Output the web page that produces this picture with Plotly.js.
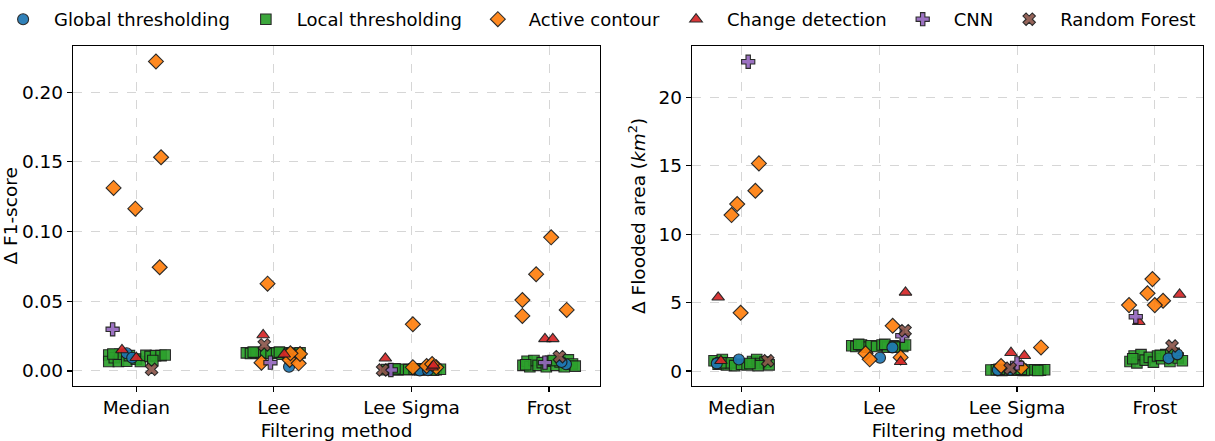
<!DOCTYPE html>
<html>
<head>
<meta charset="utf-8">
<script src="https://cdn.plot.ly/plotly-3.0.1.min.js"></script>
<style>html,body{margin:0;padding:0;background:#fff}#chart{width:1215px;height:441px}</style>
</head>
<body>
<div id="chart"></div>
<script>
// Filtering methods (x categories)
const methods = ["Median", "Lee", "Lee Sigma", "Frost"];
const seriesNames = ["Global thresholding", "Local thresholding", "Active contour", "Change detection", "CNN", "Random Forest"];

// ---- Δ F1-score (left panel): method, jitter, value ----
const f1GlobalMethod = ["Median","Median","Lee","Lee","Lee Sigma","Lee Sigma","Frost","Frost"];
const f1GlobalJitter = [-0.07,-0.03,0.11,0.14,0.06,0.12,0.123,0.09];
const f1GlobalValue  = [0.0127,0.0095,0.003,0.0115,0.0003,0.0005,0.0048,0.0065];

const f1LocalMethod = [
 "Median","Median","Median","Median","Median","Median","Median","Median","Median","Median","Median","Median","Median","Median","Median","Median",
 "Lee","Lee","Lee","Lee","Lee","Lee","Lee","Lee","Lee","Lee","Lee","Lee","Lee","Lee","Lee",
 "Lee Sigma","Lee Sigma","Lee Sigma","Lee Sigma","Lee Sigma","Lee Sigma","Lee Sigma","Lee Sigma","Lee Sigma","Lee Sigma","Lee Sigma","Lee Sigma","Lee Sigma","Lee Sigma",
 "Frost","Frost","Frost","Frost","Frost","Frost","Frost","Frost","Frost","Frost","Frost","Frost","Frost","Frost","Frost","Frost"];
const f1LocalJitter = [
 -0.2,-0.2,-0.16,-0.13,-0.12,-0.07,-0.05,0.0,0.03,0.07,0.1,0.14,0.18,0.21,-0.17,0.12,
 -0.2,-0.17,-0.13,-0.09,-0.06,-0.02,0.02,0.06,0.1,0.13,0.17,0.19,-0.15,0.04,0.11,
 -0.18,-0.14,-0.1,-0.06,-0.02,0.02,0.06,0.1,0.14,0.18,0.21,-0.12,0.04,0.16,
 -0.19,-0.16,-0.14,-0.11,-0.08,-0.05,-0.02,0.01,0.05,0.08,0.11,0.14,0.17,0.19,-0.17,0.03];
const f1LocalValue = [
 0.0115,0.0068,0.0095,0.0068,0.012,0.007,0.011,0.0085,0.0068,0.0112,0.0105,0.011,0.011,0.0115,0.0122,0.0075,
 0.013,0.0125,0.013,0.0125,0.013,0.0125,0.013,0.012,0.013,0.0125,0.0125,0.013,0.0135,0.0135,0.012,
 0.001,0.0012,0.0008,0.0012,0.001,0.0012,0.0008,0.001,0.0012,0.001,0.0012,0.0015,0.0015,0.0006,
 0.004,0.007,0.003,0.0075,0.004,0.006,0.003,0.007,0.004,0.0065,0.003,0.008,0.005,0.0035,0.0045,0.0075];

const f1ActiveMethod = ["Median","Median","Median","Median","Median","Lee","Lee","Lee","Lee","Lee","Lee","Lee Sigma","Lee Sigma","Lee Sigma","Lee Sigma","Lee Sigma","Frost","Frost","Frost","Frost","Frost"];
const f1ActiveJitter = [0.143,0.18,-0.165,-0.007,0.17,-0.046,-0.09,0.115,0.18,0.19,0.12,0.01,0.01,0.11,0.18,0.15,0.015,-0.094,-0.194,-0.194,0.128];
const f1ActiveValue  = [0.222,0.1533,0.1313,0.1164,0.0744,0.0626,0.006,0.0079,0.0055,0.0122,0.0127,0.0335,0.0026,0.0036,0.0026,0.005,0.0959,0.0694,0.0509,0.0395,0.0438];

const f1ChangeMethod = ["Median","Median","Lee","Lee","Lee Sigma","Lee Sigma","Lee Sigma","Frost","Frost"];
const f1ChangeJitter = [-0.104,0.0,-0.078,0.075,-0.19,0.15,0.16,-0.03,0.027];
const f1ChangeValue  = [0.0151,0.0095,0.0258,0.012,0.0091,0.0027,0.004,0.023,0.023];

const f1CnnMethod = ["Median","Lee","Lee Sigma","Frost"];
const f1CnnJitter = [-0.172,-0.025,-0.15,-0.03];
const f1CnnValue  = [0.0299,0.006,0.0007,0.006];

const f1RfMethod = ["Median","Lee","Lee Sigma","Frost"];
const f1RfJitter = [0.111,-0.07,-0.21,0.075];
const f1RfValue  = [0.0012,0.0187,0.0007,0.0103];

// ---- Δ Flooded area km² (right panel) ----
const arGlobalMethod = ["Median","Median","Lee","Lee","Lee Sigma","Lee Sigma","Frost","Frost"];
const arGlobalJitter = [-0.18,-0.02,0.005,0.095,-0.14,-0.05,0.1,0.164];
const arGlobalValue  = [0.56,0.85,0.97,1.73,0.07,0.1,0.93,1.22];

const arLocalMethod = f1LocalMethod;
const arLocalJitter = [
 -0.2,-0.17,-0.14,-0.11,-0.08,-0.05,0.0,0.04,0.08,0.11,0.14,0.17,0.2,-0.15,0.12,0.06,
 -0.2,-0.17,-0.13,-0.09,-0.06,-0.02,0.02,0.06,0.1,0.13,0.17,0.19,-0.15,0.04,0.11,
 -0.19,-0.15,-0.11,-0.07,-0.03,0.01,0.05,0.09,0.13,0.17,0.2,-0.13,0.03,0.15,
 -0.18,-0.15,-0.13,-0.1,-0.07,-0.04,-0.01,0.02,0.05,0.08,0.11,0.14,0.17,0.2,-0.16,0.04];
const arLocalValue = [
 0.75,0.5,0.85,0.45,0.6,0.4,0.5,0.45,0.7,0.85,0.55,0.65,0.45,0.6,0.4,0.55,
 1.85,1.8,1.9,1.75,1.85,1.8,1.9,1.75,1.85,1.8,1.8,1.9,1.95,1.95,1.75,
 0.08,0.1,0.05,0.1,0.07,0.1,0.05,0.08,0.1,0.07,0.1,0.13,0.12,0.04,
 0.7,1.1,0.6,1.2,0.8,1.0,0.65,1.1,0.9,1.2,0.7,1.3,0.95,0.75,0.9,1.15];

const arActiveMethod = ["Median","Median","Median","Median","Median","Lee","Lee","Lee","Lee","Lee Sigma","Lee Sigma","Lee Sigma","Frost","Frost","Frost","Frost","Frost"];
const arActiveJitter = [0.126,0.10,-0.032,-0.073,-0.007,0.097,-0.1,-0.07,0.155,0.174,-0.116,0.03,-0.017,-0.053,0.06,0.0,-0.187];
const arActiveValue  = [15.18,13.18,12.21,11.40,4.26,3.31,1.3,0.86,1.0,1.73,0.37,0.27,6.72,5.68,5.14,4.82,4.82];

const arChangeMethod = ["Median","Median","Lee","Lee","Lee Sigma","Lee Sigma","Frost","Frost"];
const arChangeJitter = [-0.17,-0.15,0.19,0.155,-0.044,0.053,0.18,-0.116];
const arChangeValue  = [5.39,0.75,5.75,0.68,1.34,1.12,5.6,3.6];

const arCnnMethod = ["Median","Lee","Lee Sigma","Frost"];
const arCnnJitter = [0.048,0.167,0.0,-0.138];
const arCnnValue  = [22.61,2.58,0.56,3.97];

const arRfMethod = ["Median","Lee","Lee Sigma","Frost"];
const arRfJitter = [0.19,0.187,-0.05,0.125];
const arRfValue  = [0.75,2.95,0.2,1.83];

const xTickVals = [0, 1, 2, 3];
const f1TickVals = [0, 0.05, 0.10, 0.15, 0.20];
const f1TickText = ["0.00", "0.05", "0.10", "0.15", "0.20"];
const arTickVals = [0, 5, 10, 15, 20];

// ---- styling ----
const colors = ["#1f77b4", "#2ca02c", "#ff7f0e", "#d62728", "#9467bd", "#8c564b"];
const symbols = ["circle", "square", "diamond", "triangle-up", "cross", "x"];
const sizes = [11, 10.5, 11.5, 11, 11, 11];
const drawOrder = [1, 0, 2, 3, 4, 5];

const f1Sets = [
  [f1GlobalMethod, f1GlobalJitter, f1GlobalValue],
  [f1LocalMethod, f1LocalJitter, f1LocalValue],
  [f1ActiveMethod, f1ActiveJitter, f1ActiveValue],
  [f1ChangeMethod, f1ChangeJitter, f1ChangeValue],
  [f1CnnMethod, f1CnnJitter, f1CnnValue],
  [f1RfMethod, f1RfJitter, f1RfValue]];
const arSets = [
  [arGlobalMethod, arGlobalJitter, arGlobalValue],
  [arLocalMethod, arLocalJitter, arLocalValue],
  [arActiveMethod, arActiveJitter, arActiveValue],
  [arChangeMethod, arChangeJitter, arChangeValue],
  [arCnnMethod, arCnnJitter, arCnnValue],
  [arRfMethod, arRfJitter, arRfValue]];

function pos(m, j) { return m.map((name, i) => methods.indexOf(name) + j[i]); }

const traces = [];
drawOrder.forEach(k => {
  const mk = {color: colors[k], symbol: symbols[k], size: sizes[k], opacity: 0.92,
              line: {color: "#1a1a1a", width: 1.1}};
  traces.push({type: "scatter", mode: "markers", name: seriesNames[k], legendgroup: seriesNames[k],
    legendrank: k + 1, x: pos(f1Sets[k][0], f1Sets[k][1]), y: f1Sets[k][2],
    xaxis: "x", yaxis: "y", marker: mk, showlegend: true, hoverinfo: "skip"});
  traces.push({type: "scatter", mode: "markers", name: seriesNames[k], legendgroup: seriesNames[k],
    legendrank: k + 1, x: pos(arSets[k][0], arSets[k][1]), y: arSets[k][2],
    xaxis: "x2", yaxis: "y2", marker: mk, showlegend: false, hoverinfo: "skip"});
});

const font = {family: "DejaVu Sans, sans-serif", size: 18.5, color: "#000"};
const legendFont = {family: "DejaVu Sans, sans-serif", size: 18, color: "#000"};
const axBase = {showline: true, mirror: true, linecolor: "#000", linewidth: 1.2,
  ticks: "outside", ticklen: 5, tickwidth: 1.2, tickcolor: "#000",
  showgrid: true, gridcolor: "#d6d6d6", griddash: "dash", gridwidth: 1,
  zeroline: false, automargin: false, tickfont: font};

const TOP = 38, H = 441 - TOP;
const yDom = [1 - (385.7 - TOP) / H, 1 - (46 - TOP) / H];

const layout = {
  width: 1215, height: 441,
  margin: {l: 0, r: 0, t: TOP, b: 0, autoexpand: false},
  paper_bgcolor: "#fff", plot_bgcolor: "#fff",
  font: font, showlegend: true,
  legend: {orientation: "h", x: -0.0065, xanchor: "left", y: 1.0, yanchor: "bottom",
    font: legendFont, itemwidth: 52, bgcolor: "rgba(0,0,0,0)", traceorder: "normal"},
  xaxis: Object.assign({}, axBase, {domain: [73/1215, 600/1215], range: [-0.46, 3.37],
    tickvals: xTickVals, ticktext: methods,
    title: {text: "Filtering method", font: font}}),
  yaxis: Object.assign({}, axBase, {domain: yDom, range: [-0.01055, 0.2331],
    tickvals: f1TickVals, ticktext: f1TickText,
    title: {text: "Δ F1-score", font: font}}),
  xaxis2: Object.assign({}, axBase, {domain: [692/1215, 1203/1215], range: [-0.36, 3.35],
    tickvals: xTickVals, ticktext: methods, anchor: "y2",
    title: {text: "Filtering method", font: font}}),
  yaxis2: Object.assign({}, axBase, {domain: yDom, range: [-1.07, 23.76],
    tickvals: arTickVals, anchor: "x2",
    title: {text: "Δ Flooded area (<i>km</i><sup>2</sup>)", font: font}})
};

Plotly.newPlot("chart", traces, layout, {staticPlot: true, displayModeBar: false});
</script>
</body>
</html>
